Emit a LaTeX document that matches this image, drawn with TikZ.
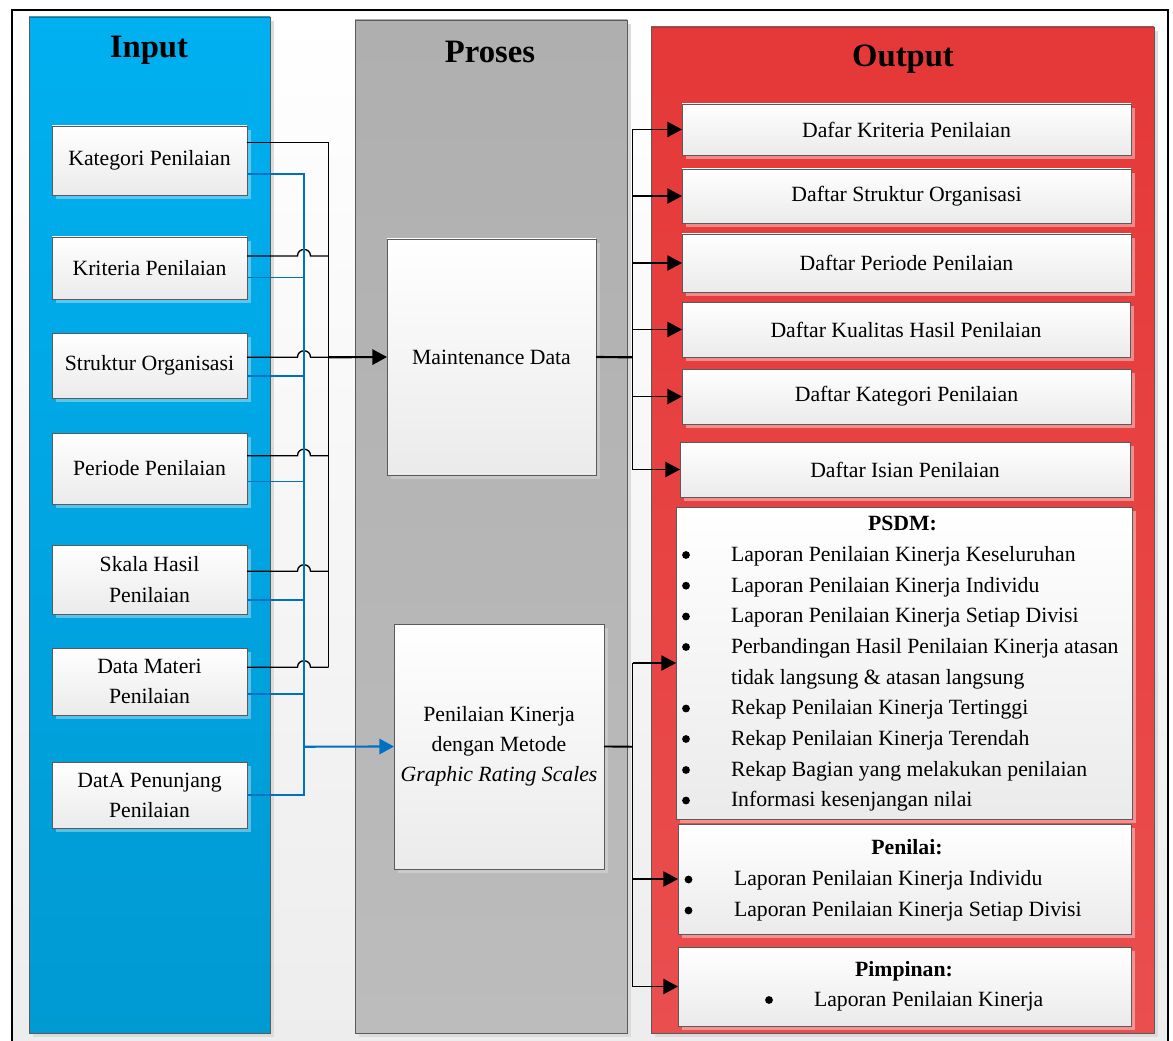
\documentclass[tikz,border=0pt]{standalone}
\usepackage{fontspec}
\setmainfont{Liberation Serif}
\usetikzlibrary{arrows.meta,shadows}

\definecolor{inblueT}{HTML}{00B0F0}
\definecolor{inblueB}{HTML}{009AD3}
\definecolor{prgreyT}{HTML}{AFAFAF}
\definecolor{prgreyB}{HTML}{BCBCBC}
\definecolor{outredT}{HTML}{E53838}
\definecolor{outredB}{HTML}{EA4E4E}
\definecolor{linkblue}{HTML}{0070C0}
\definecolor{edgegrey}{HTML}{5A5A5A}

\newcommand\bodyfnt{\fontsize{16.3}{22.6}\selectfont}
\newcommand\titlefnt{\fontsize{24.5}{28}\selectfont\bfseries}
% rectangle node given by its corners: style, name, x1, y1, x2, y2, text
\newcommand\rbox[7]{\node[#1, minimum width={(#5-(#3))*0.75pt}, minimum height={(#6-(#4))*0.75pt}] (#2) at ({(#3+#5)/2},{(#4+#6)/2}) {#7};}

\begin{document}
\begin{tikzpicture}[x=0.75pt,y=-0.75pt,
  every node/.style={inner sep=0pt, outer sep=0pt},
  colpanel/.style={draw=edgegrey, line width=0.6pt,
    general shadow={shadow xshift=3pt, shadow yshift=-3pt, fill=black!14}},
  cardbox/.style={draw=edgegrey, line width=0.7pt, top color=white,
    bottom color=black!8, align=center, font=\bodyfnt},
  lightshadow/.style={general shadow={shadow xshift=3pt, shadow yshift=-3pt,
    fill=white, fill opacity=#1}},
  ttlnode/.style={font=\titlefnt},
  blackwire/.style={draw=black, line width=1pt},
  bluewire/.style={draw=linkblue, line width=1pt},
  arrowwire/.style={-{Triangle[length=11pt,width=11.5pt]}},
  bulletitem/.style={anchor=west, font=\bodyfnt, text height=12pt, text depth=2.5pt},
  headitem/.style={font=\bodyfnt\bfseries, text height=12pt, text depth=2.5pt},
]
\useasboundingbox (0,0) rectangle (1173,1041);

% frame
\fill[top color=white, bottom color=black!7] (12,10) rectangle (1168,1041);
\draw[line width=2.2pt] (12,1050) -- (12,10) -- (1168,10) -- (1168,1050);

% three panels
\rbox{colpanel, top color=inblueT, bottom color=inblueB}{incol}{29}{17}{270}{1033}{}
\rbox{colpanel, top color=prgreyT, bottom color=prgreyB}{procol}{355}{20}{627}{1033}{}
\rbox{colpanel, top color=outredT, bottom color=outredB}{outcol}{651}{27}{1154}{1033}{}

\node[ttlnode] (intitle) at (149,50) {Input};
\node[ttlnode] (prtitle) at (490,51.5) {Proses};
\node[ttlnode] (outtitle) at (903,59) {Output};

% input entities
\rbox{cardbox, lightshadow=0.35}{k1}{52}{126}{247}{195}{Kategori Penilaian}
\rbox{cardbox, lightshadow=0.35}{k2}{52}{237}{247}{299}{Kriteria Penilaian}
\rbox{cardbox, lightshadow=0.35}{k3}{52}{333}{247}{398}{Struktur Organisasi}
\rbox{cardbox, lightshadow=0.35}{k4}{52}{433}{247}{504}{Periode Penilaian}
\rbox{cardbox, lightshadow=0.35}{k5}{52}{545}{247}{614}{Skala Hasil\\Penilaian}
\rbox{cardbox, lightshadow=0.35}{k6}{52}{648}{247}{715}{Data Materi\\Penilaian}
\rbox{cardbox, lightshadow=0.35}{k7}{52}{762}{247}{828}{DatA Penunjang\\Penilaian}

% processes
\rbox{cardbox, lightshadow=0.25}{md}{387}{239}{596}{475}{Maintenance Data}
\rbox{cardbox, lightshadow=0.25}{grs}{394}{624}{604}{869}{Penilaian Kinerja\\dengan Metode\\\textit{Graphic Rating Scales}}

% outputs
\rbox{cardbox, lightshadow=0.4}{o1}{682}{104}{1131}{155}{Dafar Kriteria Penilaian}
\rbox{cardbox, lightshadow=0.4}{o2}{682}{169}{1131}{223}{Daftar Struktur Organisasi}
\rbox{cardbox, lightshadow=0.4}{o3}{682}{234}{1131}{292}{Daftar Periode Penilaian}
\rbox{cardbox, lightshadow=0.4}{o4}{682}{302}{1130}{357}{Daftar Kualitas Hasil Penilaian}
\rbox{cardbox, lightshadow=0.4}{o5}{682}{369}{1131}{424}{Daftar Kategori Penilaian}
\rbox{cardbox, lightshadow=0.4}{o6}{680}{442}{1130}{497}{Daftar Isian Penilaian}
\rbox{cardbox, lightshadow=0.4}{psdm}{676}{507}{1132}{819}{}
\rbox{cardbox, lightshadow=0.4}{pen}{678}{824}{1131}{934}{}
\rbox{cardbox, lightshadow=0.4}{pim}{678}{947}{1131}{1026}{}

% report lists
\node[headitem] (psdmhead) at (902.5,524) {PSDM:};
\foreach \y/\t [count=\i] in {
  555/{Laporan Penilaian Kinerja Keseluruhan},
  585.7/{Laporan Penilaian Kinerja Individu},
  616.5/{Laporan Penilaian Kinerja Setiap Divisi},
  647/{Perbandingan Hasil Penilaian Kinerja atasan},
  678/{tidak langsung \& atasan langsung},
  708.5/{Rekap Penilaian Kinerja Tertinggi},
  739/{Rekap Penilaian Kinerja Terendah},
  770/{Rekap Bagian yang melakukan penilaian},
  800.5/{Informasi kesenjangan nilai}}
  \node[bulletitem] (psdmitem\i) at (731,\y) {\t};
\foreach \y in {555,585.7,616.5,647,708.5,739,770,800.5}
  \fill (686,\y) circle (3.9);

\node[headitem] (penhead) at (907,848) {Penilai:};
\node[bulletitem] (penitem1) at (734,879.5) {Laporan Penilaian Kinerja Individu};
\node[bulletitem] (penitem2) at (734,910.5) {Laporan Penilaian Kinerja Setiap Divisi};
\fill (688.5,879.5) circle (3.9);
\fill (688.5,910.5) circle (3.9);

\node[headitem] (pimhead) at (904,970) {Pimpinan:};
\node[bulletitem] (pimitem1) at (814,1000) {Laporan Penilaian Kinerja};
\fill (769,1000) circle (3.9);

% black wires into Maintenance Data, hopping over the blue bus
\coordinate (jb1) at (328.7,142.7);
\coordinate (jb2) at (328.7,256);
\coordinate (jb3) at (328.7,357.3);
\coordinate (jb4) at (328.7,455.7);
\coordinate (jb5) at (328.7,571.3);
\coordinate (jb6) at (328.7,667.3);
\draw[blackwire] (k1.east |- jb1) -- (jb1) -- (jb6);
\foreach \i/\y in {2/256,3/357.3,4/455.7,5/571.3,6/667.3}
  \draw[blackwire] (k\i.east |- jb\i) -- (297.5,\y)
    .. controls (297.5,\y-8.7) and (310.5,\y-8.7) .. (310.5,\y) -- (jb\i);
\draw[blackwire, line width=1.6pt, arrowwire] (jb3) -- (md.west);

% blue wires into the rating process
\coordinate (jl1) at (304,174);
\coordinate (jl2) at (304,277.3);
\coordinate (jl3) at (304,376);
\coordinate (jl4) at (304,481.7);
\coordinate (jl5) at (304,600);
\coordinate (jl6) at (304,694);
\coordinate (jl7) at (304,795);
\coordinate (jg) at (304,746.7);
\draw[bluewire] (k1.east |- jl1) -- (jl1) -- (jl7) -- (k7.east |- jl7);
\foreach \i in {2,...,6}
  \draw[bluewire] (k\i.east |- jl\i) -- (jl\i);
\draw[bluewire, line width=1.6pt, arrowwire] (jg) -- (grs.west);

% outputs of Maintenance Data
\coordinate (ob) at (632.7,357.3);
\draw[blackwire, line width=1.6pt] (md.east) -- (ob);
\draw[blackwire] (ob |- o1.west) -- (ob |- o6.west);
\foreach \i in {1,...,6}
  \draw[blackwire, arrowwire] (ob |- o\i.west) -- (o\i.west);

% outputs of the rating process
\coordinate (og) at (632.7,746.7);
\draw[blackwire, line width=1.4pt] (grs.east) -- (og);
\draw[blackwire] (og |- psdm.west) -- (og |- pim.west);
\foreach \n in {psdm,pen,pim}
  \draw[blackwire, arrowwire] (og |- \n.west) -- (\n.west);
\end{tikzpicture}
\end{document}
